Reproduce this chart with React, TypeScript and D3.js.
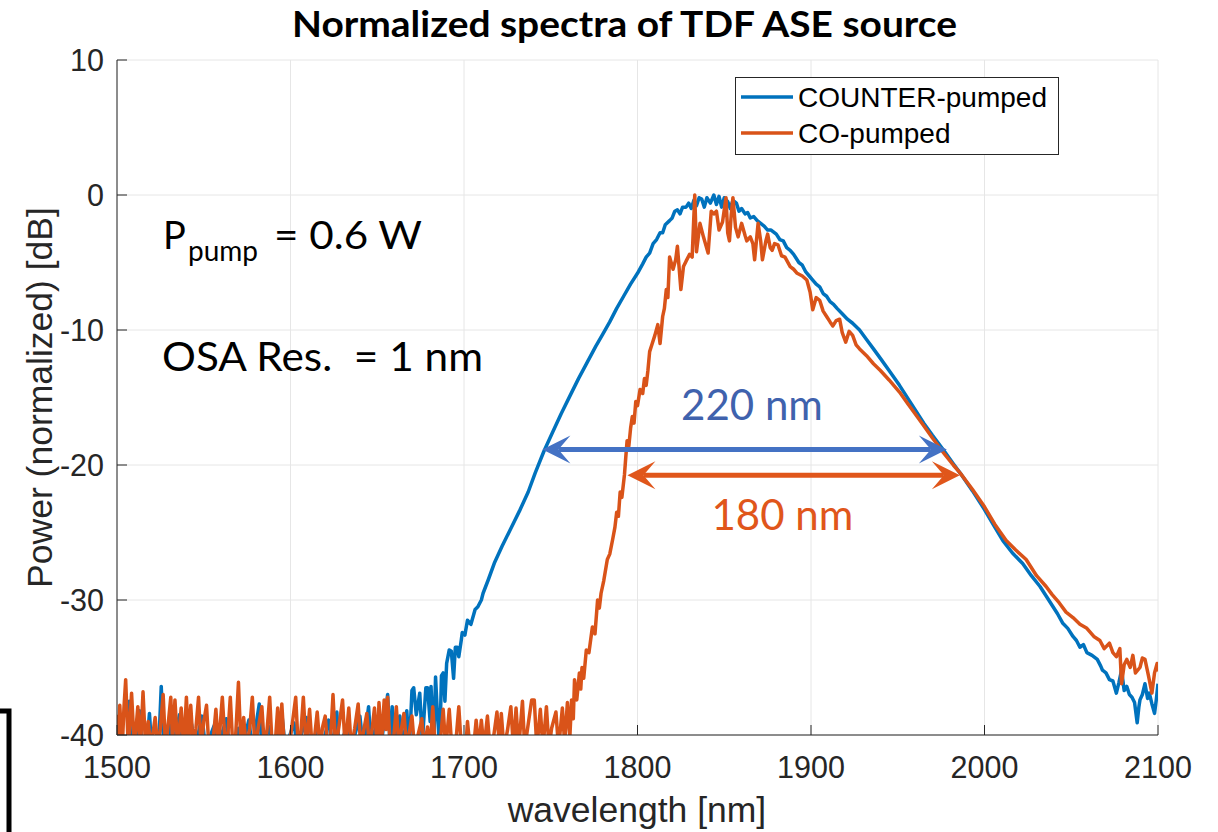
import React from "react";
import * as d3 from "d3";

// ---- data ----
const xTicks = [1500, 1600, 1700, 1800, 1900, 2000, 2100];
const yTicks = [10, 0, -10, -20, -30, -40];
const seriesNames = ["COUNTER-pumped", "CO-pumped"];
const seriesColors = ["#0072BD", "#D95319"];

// COUNTER-pumped spectrum: [wavelength nm, power dB]
const counterSpectrum: [number, number][] = [
  [1500,-41],[1502,-38.5],[1503.5,-41],[1506,-41],[1507,-37.5],[1508,-41],[1511,-41],[1513,-38.2],[1514.5,-41],
  [1517,-41],[1518.7,-38.4],[1520,-41],[1524,-41],[1525.5,-36.4],[1527,-41],[1530,-39],[1532,-41],[1536,-38.5],
  [1538,-41],[1543,-39.2],[1545,-41],[1549,-38.6],[1551,-41],[1556,-39.3],[1558,-41],[1563,-38.8],[1565,-41],
  [1570,-39.5],[1572,-41],[1576,-38.9],[1578,-41],[1582,-37.7],[1583.5,-41],[1588,-39.4],[1590,-41],[1595,-38.4],
  [1597,-41],[1602,-39.1],[1604,-41],[1609,-38.7],[1611,-41],[1616,-39.4],[1618,-41],[1622,-38.9],[1624,-41],
  [1626.7,-38.3],[1628,-41],[1633,-39.2],[1635,-41],[1640,-38.6],[1642,-41],[1645,-37.9],[1646.5,-41],[1650,-38.8],
  [1652,-41],[1656,-37],[1657.5,-41],[1658.6,-37.9],[1660,-41],[1663,-38.6],[1665,-41],[1667,-38.2],[1668.5,-41],
  [1670,-36.7],[1671,-36.5],[1672.5,-38.5],[1674.5,-36.9],[1676,-40.5],[1678,-36.5],[1679,-36.5],[1680.5,-39],
  [1681,-36.4],[1682.5,-41],[1683.6,-35.7],[1684.5,-38],[1686,-41],[1687,-35.6],[1688,-35.4],[1689,-37.5],
  [1690,-34.7],[1691.5,-33.7],[1692.7,-33.8],[1694,-35.8],[1695,-33.5],[1696,-33.5],[1697,-34.2],[1698.4,-33],
  [1699,-32.4],[1700.5,-32.6],[1702,-31.5],[1704,-31.8],[1706.4,-30.7],[1708,-30.5],[1710,-30],[1711,-29.5],
  [1714,-28.5],[1717.7,-27.2],[1722,-26],[1727,-24.7],[1732,-23.4],[1737,-22],[1741,-20.6],[1746,-19],[1751,-17.6],
  [1756,-16.2],[1761,-14.9],[1766,-13.6],[1771,-12.4],[1776,-11.2],[1780,-10.3],[1784,-9.4],[1788,-8.4],
  [1792,-7.5],[1796,-6.6],[1800,-5.8],[1803,-5.1],[1805,-4.6],[1807,-4.3],[1809,-3.6],[1811,-3.3],[1813,-2.8],
  [1814.5,-2.8],[1816,-2.2],[1818.5,-1.9],[1820,-1.7],[1821.5,-1.2],[1823,-1.1],[1824.5,-1.4],[1826,-0.9],
  [1828,-0.9],[1829.5,-0.6],[1831,-1.0],[1832.5,-0.4],[1834,-0.8],[1835.5,-0.2],[1837,-0.3],[1838.5,-0.9],
  [1840,-0.2],[1842,-0.6],[1844,0],[1845.5,-0.7],[1847,-0.1],[1848.5,-0.9],[1850,-0.2],[1852,-0.5],[1853.5,-1.0],
  [1855,-0.4],[1857,-0.6],[1858.5,-1.2],[1860,-1.0],[1862,-1.4],[1863.5,-1.3],[1865,-1.7],[1867,-1.6],[1869,-1.9],
  [1871,-2.1],[1873,-2.3],[1875,-2.6],[1877,-2.6],[1880,-2.9],[1882,-3.3],[1884,-3.4],[1886,-3.9],[1888,-4.1],
  [1890,-4.4],[1893,-5.0],[1895,-5.2],[1897,-5.7],[1899,-6.0],[1901,-6.3],[1903,-6.6],[1905,-6.8],[1907,-7.3],
  [1909,-7.5],[1911,-7.9],[1913,-8.1],[1915,-8.4],[1918,-8.8],[1921,-9.2],[1924,-9.5],[1928,-10],[1932,-10.7],
  [1936,-11.4],[1940,-12.1],[1945,-13.0],[1951,-14.1],[1956,-15.1],[1960,-15.9],[1965,-16.9],[1970,-17.8],
  [1977,-19.0],[1982,-19.9],[1986,-20.6],[1993,-21.9],[2000,-23.3],[2005,-24.4],[2010.6,-25.6],[2016,-26.5],
  [2022,-27.3],[2027,-28.2],[2032,-29],[2036,-29.8],[2039.5,-30.5],[2042,-31.0],[2045,-31.7],[2048,-32.1],
  [2051,-32.7],[2053,-33.0],[2055,-33.5],[2057,-33.3],[2059,-33.9],[2062,-34.1],[2065,-34.4],[2067,-34.9],
  [2068,-35.2],[2070,-35.4],[2072,-35.9],[2074,-36.0],[2076,-36.9],[2077.5,-36.1],[2079,-35.2],[2080.5,-36.7],
  [2082,-36.4],[2083.5,-37.0],[2085,-37.2],[2086.5,-37.6],[2088,-39.1],[2089,-37.9],[2089.6,-37.4],[2091,-37.0],
  [2092.5,-36.2],[2094,-37.3],[2095,-36.9],[2096.5,-37.7],[2098,-38.4],[2099,-37.4],[2100,-36.2],
];

// CO-pumped spectrum: [wavelength nm, power dB]
const coSpectrum: [number, number][] = [
  [1500,-38.5],[1500.8,-41],[1501.6,-37.8],[1503,-41],[1504,-38],[1505,-35.9],[1506.5,-41],[1508.4,-36.9],
  [1510,-41],[1512,-37.9],[1513.5,-41],[1515,-36.8],[1516.5,-41],[1518,-39],[1519.5,-41],[1522,-38.7],
  [1523.5,-41],[1525,-39.5],[1526.6,-37],[1528,-41],[1529.5,-39.2],[1531,-37.2],[1532,-40.5],[1533.4,-37.4],
  [1535,-41],[1537,-38],[1538.5,-41],[1540,-37.2],[1541.2,-40.5],[1542.5,-37.8],[1544,-41],[1545.5,-39.5],
  [1547,-37.2],[1548.5,-41],[1550,-39],[1551.6,-37.8],[1553,-41],[1555,-41],[1557,-38.1],[1558.5,-41],
  [1560.7,-37.2],[1562.5,-41],[1564,-39.8],[1565.3,-37.2],[1566.8,-41],[1568,-41],[1570,-36.1],[1571.5,-41],
  [1573,-38.7],[1574.5,-41],[1576.5,-39.5],[1578,-37.2],[1579.5,-41],[1581.5,-39.4],[1583.5,-37.9],[1585,-41],
  [1586.5,-39.6],[1588,-37.2],[1589.5,-41],[1591,-41],[1592.6,-38],[1594,-40.5],[1595,-37.7],[1596.5,-41],
  [1599,-41],[1601,-39.2],[1603,-37.2],[1604.5,-41],[1606,-39.8],[1607.4,-37.2],[1609,-41],[1611,-38.1],
  [1612.5,-41],[1614,-40],[1615.4,-38.3],[1617,-41],[1618.5,-39.4],[1620,-38.6],[1621.5,-41],[1623,-40.5],
  [1624.5,-37],[1626,-41],[1628,-39.3],[1630,-37.4],[1631.5,-41],[1633.6,-38],[1635,-41],[1637,-39.5],
  [1639,-37.7],[1640.5,-41],[1642,-39.8],[1644,-38.4],[1645.5,-41],[1647,-39.6],[1648.4,-38],[1650,-41],
  [1651,-37.6],[1652.5,-40.5],[1654,-37.4],[1655,-39.6],[1656,-37.2],[1657.5,-41],[1659,-41],[1661,-37.9],
  [1662.5,-41],[1664,-39.5],[1665.4,-38.4],[1667,-41],[1668.5,-39.8],[1670,-38.6],[1671.5,-41],[1673.5,-40],
  [1675.7,-38.8],[1677,-41],[1679,-39.4],[1680.5,-41],[1682,-37.9],[1683.5,-41],[1686,-41],[1688,-38.1],
  [1689.5,-41],[1691.5,-38.1],[1693,-41],[1695,-41],[1697,-37.9],[1698.5,-41],[1701,-41],[1702,-39],
  [1703.5,-41],[1705.5,-41],[1707,-38.9],[1708.5,-41],[1710,-38.9],[1711.5,-41],[1713.5,-38.6],[1715,-41],
  [1717,-40.2],[1719,-38.3],[1720.5,-41],[1721.5,-38.4],[1723,-41],[1725,-39.7],[1727,-37.9],[1728.5,-41],
  [1730,-38],[1731.5,-41],[1733.7,-37.5],[1735,-41],[1737,-39.2],[1739,-37.4],[1740.5,-37.4],[1742,-41],
  [1744,-38.1],[1745.5,-41],[1747.5,-37.9],[1749,-41],[1750.5,-39.5],[1753,-38.3],[1754.5,-41],[1756.7,-38],
  [1758,-40.6],[1759.6,-37.6],[1761,-40.2],[1762,-37.4],[1763,-38.8],[1763.7,-35.9],[1765,-37.4],[1766.5,-35.4],
  [1767.3,-36.6],[1768,-35],[1769,-35.8],[1770.5,-33.7],[1772,-33.9],[1774,-32],[1775.5,-32.5],[1777,-30],
  [1778,-30.6],[1779,-29.5],[1780.5,-28.6],[1782.6,-27],[1784,-26.6],[1785.7,-25.5],[1787,-24.6],[1788,-23.5],
  [1789,-23.8],[1790,-22],[1791,-22.4],[1792.5,-20.7],[1793.2,-19.5],[1794,-18.2],[1795,-18.6],[1796,-17.3],
  [1797,-16.4],[1798,-16.9],[1799,-15.3],[1800,-15.6],[1801.5,-14.4],[1803,-14.7],[1804,-13.6],[1805,-14.1],
  [1806,-13],[1807,-11.6],[1808.5,-11],[1810,-10.4],[1811.7,-9.6],[1813,-11],[1814.5,-9],[1815.5,-8.4],
  [1816.6,-7],[1817.5,-7.6],[1818.5,-4.6],[1820.5,-5.5],[1822,-4.8],[1823,-3.8],[1825,-7],[1826.5,-5.3],
  [1828,-4.9],[1830,-4.4],[1831.5,-4.6],[1833,0],[1834,-4.2],[1836,-2.1],[1838,-3.1],[1840.7,-4.3],
  [1842.5,-1.2],[1844,-1.4],[1845.5,-1.2],[1847,-2.6],[1849,-2.0],[1851,-0.2],[1852,-2.8],[1853,-3.4],
  [1854,-1.5],[1855,-0.2],[1856.5,-2.4],[1858,-3.1],[1860,-2.1],[1862,-3.0],[1863,-3.4],[1865,-3.1],
  [1866.5,-3.6],[1867.5,-4.8],[1869.5,-2.1],[1871,-3.4],[1872,-4.8],[1874,-3.4],[1875,-2.9],[1876.5,-3.9],
  [1877.6,-4.1],[1879,-3.6],[1881,-3.7],[1883,-4.5],[1885,-4.6],[1888,-5.3],[1890,-5.5],[1892,-5.8],
  [1895,-6.0],[1897.6,-6.3],[1899.5,-7.2],[1901,-8.5],[1903,-7.6],[1905,-7.8],[1907,-8.6],[1909,-9.0],
  [1911,-9.4],[1912.6,-9.7],[1914.5,-9.3],[1916.5,-9.2],[1918,-10.2],[1920,-10.9],[1922,-10.1],[1924,-10.4],
  [1926,-11.1],[1928,-11.4],[1932,-11.9],[1936,-12.5],[1940,-13.0],[1945,-13.7],[1951,-14.6],[1956,-15.5],
  [1960,-16.2],[1965,-17.1],[1970,-18.0],[1977,-19.2],[1982,-20.0],[1986,-20.6],[1993,-21.8],[2000,-23.1],
  [2006,-24.4],[2012.5,-25.6],[2018,-26.3],[2024,-27],[2030,-28.2],[2035.5,-29],[2039,-29.6],[2043,-30.2],
  [2047,-30.9],[2051,-31.3],[2055,-31.8],[2059,-32.1],[2063,-32.7],[2066.5,-33],[2069,-33.6],[2072,-33.2],
  [2074,-33.9],[2076,-34.2],[2078,-33.6],[2079,-36.2],[2080.5,-34.8],[2082,-34.4],[2084,-35],[2085.5,-34.1],
  [2087,-35.4],[2089.6,-35],[2091,-34.3],[2092.5,-34.4],[2094.5,-35.6],[2096.5,-36.9],[2098,-35.4],
  [2099.5,-34.7],[2100,-35.3],
];

// bandwidth annotations: [start nm, end nm, level dB]
const widthArrows: [number, number, number][] = [
  [1745.2, 1978.3, -18.85],
  [1794.2, 1985.8, -20.75],
];
const widthLabels = ["220 nm", "180 nm"];
const widthLabelPos: [number, number][] = [
  [1866, -16.65],
  [1883.5, -24.8],
];
const annotColors = ["#4472C4", "#E0561B"];
const annotTextColors = ["#3F62AD", "#E0561B"];

// ---- layout ----
const W = 1218;
const H = 832;
const L = 117, R = 1158, T = 60, B = 735;

const x = d3.scaleLinear().domain([1500, 2100]).range([L, R]);
const y = d3.scaleLinear().domain([-40, 10]).range([B, T]);

const line = d3
  .line<[number, number]>()
  .x((d) => x(d[0]))
  .y((d) => y(d[1]));

const axisColor = "#262626";
const gridColor = "#E6E6E6";
const sans = "'Liberation Sans', Arial, Helvetica, sans-serif";
const office = "Lato, 'Open Sans', sans-serif";

function Arrow({ x1, x2, yv, color }: { x1: number; x2: number; yv: number; color: string }) {
  const a = x(x1), b = x(x2), yy = y(yv);
  const hl = 28, hw = 14, notch = 16;
  const left = `M${a},${yy} L${a + hl},${yy - hw} L${a + notch},${yy} L${a + hl},${yy + hw} Z`;
  const right = `M${b},${yy} L${b - hl},${yy - hw} L${b - notch},${yy} L${b - hl},${yy + hw} Z`;
  return (
    <g>
      <line x1={a + notch} x2={b - notch} y1={yy} y2={yy} stroke={color} strokeWidth={5} />
      <path d={left} fill={color} />
      <path d={right} fill={color} />
    </g>
  );
}

export default function App() {
  const series = [counterSpectrum, coSpectrum];
  return (
    <svg
      width={W}
      height={H}
      viewBox={`0 0 ${W} ${H}`}
      style={{ position: "absolute", left: 0, top: 0, background: "#fff" }}
    >
      <defs>
        <clipPath id="plotClip">
          <rect x={L} y={T} width={R - L} height={B - T} />
        </clipPath>
      </defs>
      <rect x={0} y={0} width={W} height={H} fill="#fff" />

      {/* grid */}
      {xTicks.map((t) => (
        <line key={"gx" + t} x1={x(t)} x2={x(t)} y1={T} y2={B} stroke={gridColor} strokeWidth={1} />
      ))}
      {yTicks.map((t) => (
        <line key={"gy" + t} x1={L} x2={R} y1={y(t)} y2={y(t)} stroke={gridColor} strokeWidth={1} />
      ))}

      {/* data */}
      <g clipPath="url(#plotClip)">
        {series.map((s, i) => (
          <path
            key={i}
            d={line(s) || ""}
            fill="none"
            stroke={seriesColors[i]}
            strokeWidth={3.5}
            strokeLinejoin="round"
          />
        ))}
      </g>

      {/* axes */}
      <line x1={L} x2={L} y1={T} y2={B} stroke={axisColor} strokeWidth={1} />
      <line x1={L} x2={R} y1={B} y2={B} stroke={axisColor} strokeWidth={1} />
      {xTicks.map((t) => (
        <g key={"xt" + t}>
          <line x1={x(t)} x2={x(t)} y1={B} y2={B - 10} stroke={axisColor} strokeWidth={1} />
          <text x={x(t)} y={778} textAnchor="middle" fontFamily={sans} fontSize={30.5} fill={axisColor}>
            {t}
          </text>
        </g>
      ))}
      {yTicks.map((t) => (
        <g key={"yt" + t}>
          <line x1={L} x2={L + 10} y1={y(t)} y2={y(t)} stroke={axisColor} strokeWidth={1} />
          <text x={104} y={y(t) + 11} textAnchor="end" fontFamily={sans} fontSize={30.5} fill={axisColor}>
            {t}
          </text>
        </g>
      ))}

      {/* axis labels */}
      <text x={637} y={822} textAnchor="middle" fontFamily={sans} fontSize={35.5} fill={axisColor}>
        wavelength [nm]
      </text>
      <text
        transform={`translate(52,${(T + B) / 2}) rotate(-90)`}
        textAnchor="middle"
        fontFamily={sans}
        fontSize={35.5}
        fill={axisColor}
      >
        Power (normalized) [dB]
      </text>

      {/* title */}
      <text x={292} y={37} fontFamily={office} fontWeight={700} fontSize={37} fill="#000"
        textLength={665} lengthAdjust="spacingAndGlyphs">
        Normalized spectra of TDF ASE source
      </text>

      {/* legend */}
      <rect x={735.5} y={77.5} width={323} height={77} fill="#fff" stroke={axisColor} strokeWidth={1} />
      {seriesNames.map((n, i) => (
        <g key={n}>
          <line x1={741} x2={793} y1={97 + i * 36} y2={97 + i * 36} stroke={seriesColors[i]} strokeWidth={3.5} />
          <text x={798} y={107 + i * 36} fontFamily={sans} fontSize={28} fill="#000">
            {n}
          </text>
        </g>
      ))}

      {/* annotations */}
      <text x={163} y={249} fontFamily={office} fontSize={38} fill="#000">P</text>
      <text x={188} y={261} fontFamily={office} fontSize={28} fill="#000">pump</text>
      <text x={274} y={249} fontFamily={office} fontSize={39} fill="#000" textLength={148} lengthAdjust="spacingAndGlyphs">
        = 0.6 W
      </text>
      <text x={162} y={371} fontFamily={office} fontSize={41} fill="#000" textLength={321}
        lengthAdjust="spacingAndGlyphs" style={{ whiteSpace: "pre" }}>
        {"OSA Res.  = 1 nm"}
      </text>

      {widthArrows.map((a, i) => (
        <Arrow key={i} x1={a[0]} x2={a[1]} yv={a[2]} color={annotColors[i]} />
      ))}
      {widthLabels.map((t, i) => (
        <text
          key={t}
          x={x(widthLabelPos[i][0])}
          y={y(widthLabelPos[i][1])}
          textAnchor="middle"
          fontFamily={office}
          fontSize={42}
          fill={annotTextColors[i]}
        >
          {t}
        </text>
      ))}

      {/* cropped frame edge at lower-left */}
      <path d="M0,711 H9 V832" fill="none" stroke="#000" strokeWidth={5} />
    </svg>
  );
}
